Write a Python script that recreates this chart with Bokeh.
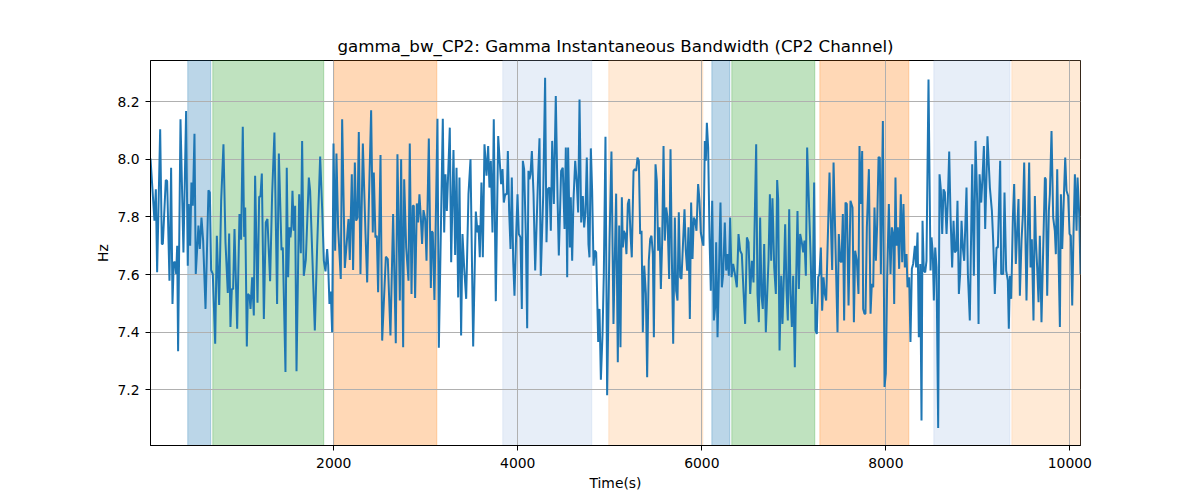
from bokeh.plotting import figure
from bokeh.models import Range1d, BoxAnnotation, FixedTicker, ColumnDataSource
from bokeh.embed import file_html
from bokeh.resources import INLINE

# ---- data ----
time_s = [
    8, 51, 66, 80, 113, 131, 142, 174, 189, 214, 232, 247, 261, 276, 287, 298, 308, 334, 366, 395,
    413, 424, 439, 453, 468, 486, 500, 529, 544, 562, 580, 606, 638, 653, 667, 685, 711, 729, 754, 776,
    801, 823, 848, 863, 877, 892, 906, 921, 950, 975, 993, 1011, 1026, 1037, 1055, 1066, 1084, 1095, 1113, 1131,
    1145, 1171, 1189, 1203, 1218, 1240, 1261, 1279,
    1308, 1330, 1355, 1384, 1403, 1432, 1446, 1475, 1489, 1504, 1518, 1529, 1540, 1551, 1566, 1580, 1595, 1624,
    1642, 1656, 1674, 1696, 1729, 1743, 1794, 1819, 1852, 1874, 1892, 1910, 1928, 1939, 1953, 1968, 1982, 1997,
    2015, 2029, 2047, 2076, 2091, 2120, 2145, 2160, 2174, 2196, 2210, 2229, 2243, 2258, 2272, 2290, 2316, 2345,
    2363, 2381, 2406, 2424, 2435, 2453, 2468, 2482, 2508, 2526,
    2566, 2587, 2616, 2645, 2674, 2692, 2718, 2732, 2754, 2765, 2787, 2812, 2826, 2845, 2859, 2870, 2884, 2903,
    2917, 2931, 2946, 2960, 2975, 2993, 3008, 3033, 3055, 3066, 3076, 3094, 3127, 3142, 3185, 3200, 3214, 3229,
    3261, 3276, 3301, 3319, 3334, 3352, 3366, 3384, 3399, 3417, 3439, 3464, 3486, 3515, 3544, 3562, 3573, 3587,
    3605, 3620, 3638, 3660, 3678, 3692, 3707, 3725, 3739, 3761, 3787,
    3819, 3834, 3848, 3863, 3881, 3892, 3906, 3921, 3935, 3950, 3964, 3982, 3997, 4011, 4029, 4044, 4055, 4069,
    4087, 4102, 4116, 4127, 4138, 4153, 4171, 4189, 4221, 4236, 4250, 4276, 4297, 4312, 4326, 4345, 4359, 4374,
    4392, 4413, 4432, 4446, 4471, 4489, 4508, 4522, 4537, 4547, 4566, 4576, 4591, 4605, 4624, 4642, 4656, 4671,
    4689, 4707, 4721, 4736, 4750, 4768, 4779, 4794, 4808, 4823, 4837, 4852, 4874, 4888, 4903, 4921, 4935, 4953,
    4971, 4997, 5018, 5040, 5069,
    5087, 5102, 5116, 5131, 5142, 5153, 5167, 5181, 5196, 5210, 5225, 5239, 5258, 5272, 5287, 5301, 5316, 5330,
    5345, 5359, 5374, 5392, 5406, 5424, 5439, 5453, 5468, 5479, 5497, 5511, 5526, 5540, 5555, 5569, 5584, 5598,
    5613, 5627, 5645, 5660, 5674, 5689, 5707, 5721, 5736, 5750, 5765, 5779, 5812, 5826, 5841, 5855, 5870, 5884,
    5899, 5913, 5928, 5942, 5960, 5975, 5989, 6004, 6018, 6033, 6044, 6055, 6069, 6084, 6098, 6113, 6131, 6145,
    6156, 6171, 6185, 6203, 6218, 6232, 6250, 6265, 6279, 6294, 6308, 6323, 6341,
    6363, 6381, 6399, 6417, 6435, 6453, 6471, 6490, 6508, 6526, 6544, 6562, 6591, 6605, 6620, 6634, 6649, 6663,
    6678, 6696, 6711, 6725, 6740, 6754, 6768, 6787, 6805, 6819, 6830, 6845, 6863, 6877, 6892, 6906, 6921, 6935,
    6950, 6964, 6979, 6993, 7011, 7026, 7040, 7055, 7069, 7087, 7102, 7116, 7131, 7145, 7182, 7196, 7207, 7221,
    7236, 7250, 7265, 7279, 7294, 7308, 7323, 7337, 7352, 7388, 7417, 7432, 7475, 7489, 7504, 7518, 7533, 7547,
    7562, 7576, 7595,
    7616, 7638, 7653, 7667, 7685, 7703, 7714, 7729, 7743, 7754, 7768, 7779, 7794, 7816, 7834, 7848, 7863, 7877,
    7892, 7906, 7921, 7935, 7946, 7968, 7986, 8000, 8015, 8033, 8051, 8066, 8080, 8091, 8105, 8116, 8131, 8145,
    8163, 8178, 8192, 8207, 8225, 8236, 8254, 8268, 8283, 8297, 8316, 8330, 8345, 8359, 8374, 8388, 8399, 8413,
    8428, 8442, 8464, 8486, 8497, 8511, 8522, 8537, 8551, 8569, 8584, 8598, 8613, 8627, 8642, 8660, 8674, 8689,
    8703, 8721, 8736, 8750, 8765, 8779, 8794, 8808, 8823, 8837, 8852,
    8877, 8892, 8913, 8939, 8957, 8975, 8993, 9008, 9019, 9037, 9051, 9066, 9080, 9105, 9131, 9153, 9167, 9185,
    9203, 9218, 9243, 9254, 9276, 9290, 9308, 9326, 9337, 9348, 9363, 9381, 9395, 9413, 9428, 9442, 9457, 9475,
    9490, 9504, 9529, 9558, 9573, 9587, 9605, 9620, 9631, 9645, 9660, 9674, 9692, 9711, 9729, 9739, 9754, 9772,
    9783, 9801, 9819, 9837, 9848, 9863, 9877, 9892, 9903, 9917, 9935, 9950, 9964, 9982, 9997, 10011, 10026, 10040,
    10055, 10073, 10084, 10102, 10116,
]

bandwidth_hz = [
    8.003, 7.787, 7.896, 7.608, 8.104, 7.706, 7.706, 7.928, 7.925, 7.579, 7.971, 7.498, 7.643, 7.643, 7.602, 7.700, 7.334, 8.139, 7.677, 8.168,
    7.631, 7.845, 7.700, 7.920, 7.839, 8.089, 7.602, 7.770, 7.689, 7.798, 7.718, 7.481, 7.893, 7.885, 7.616, 7.602, 7.360, 7.735, 7.495, 7.856,
    8.052, 7.712, 7.536, 7.743, 7.418, 7.550, 7.550, 7.758, 7.412, 7.810, 7.721, 8.113, 7.731, 7.833, 7.351, 7.533, 7.527, 7.481, 7.591, 7.458,
    7.943, 7.502, 7.870, 7.871, 7.951, 7.446, 7.781, 7.793,
    7.577, 7.879, 8.093, 7.498, 8.020, 7.685, 7.694, 7.262, 7.971, 7.591, 7.764, 7.729, 7.766, 7.891, 7.752, 7.839, 7.265, 7.879,
    7.674, 8.064, 7.596, 7.651, 7.937, 7.891, 7.406, 7.694, 8.010, 7.827, 7.648, 7.611, 7.689, 7.634, 7.498, 7.541, 7.400, 8.055,
    7.683, 8.020, 7.764, 7.585, 8.139, 7.623, 7.729, 7.793, 7.651, 7.948, 7.616, 7.989, 7.787, 7.798, 8.095, 7.602, 8.055, 7.741,
    7.573, 7.845, 8.170, 7.746, 7.954, 7.729, 7.735, 7.539, 8.015, 7.371,
    7.662, 7.654, 7.389, 7.810, 7.362, 8.018, 7.510, 8.000, 7.348, 7.931, 7.694, 7.579, 8.055, 7.533, 7.839, 7.839, 7.519, 7.847,
    7.781, 7.879, 7.798, 7.706, 7.824, 7.793, 7.648, 8.072, 7.554, 7.750, 7.746, 7.512, 8.141, 7.346, 8.141, 7.746, 7.948, 7.821,
    8.110, 7.643, 8.032, 7.668, 7.971, 7.521, 7.937, 7.389, 7.741, 7.625, 7.516, 7.879, 8.000, 7.351, 7.819, 7.746, 7.771, 7.660,
    7.920, 7.660, 8.052, 7.943, 8.046, 7.902, 7.995, 7.746, 8.139, 7.508, 8.081,
    7.914, 7.966, 7.850, 7.879, 7.879, 8.029, 7.821, 7.689, 7.937, 7.648, 7.527, 7.735, 7.879, 7.741, 7.729, 7.481, 7.995, 7.966,
    7.741, 7.414, 7.960, 7.931, 7.948, 8.029, 7.879, 7.614, 7.943, 8.073, 7.596, 7.873, 8.283, 7.712, 7.896, 7.902, 7.752, 8.064,
    7.845, 8.220, 7.868, 7.666, 7.960, 7.971, 7.758, 8.041, 7.591, 8.041, 7.694, 7.868, 7.648, 7.856, 7.995, 7.914, 7.816, 8.208,
    7.781, 7.873, 7.764, 7.816, 8.006, 7.706, 7.660, 8.038, 7.891, 7.631, 7.683, 7.677, 7.366, 7.481, 7.235, 7.394, 7.602, 8.078,
    7.181, 7.718, 8.027, 7.429, 7.881,
    7.296, 7.770, 7.348, 7.868, 7.694, 7.752, 7.741, 7.671, 7.845, 7.862, 7.741, 7.660, 7.960, 7.966, 7.960, 8.006, 7.995, 7.741,
    7.752, 7.400, 7.631, 7.533, 7.244, 7.648, 7.723, 7.735, 7.671, 7.383, 7.983, 7.925, 7.683, 7.764, 7.550, 7.712, 8.046, 7.718,
    7.833, 7.798, 7.585, 8.035, 7.671, 7.360, 7.798, 7.544, 7.510, 7.816, 7.591, 7.585, 7.827, 7.683, 7.614, 7.764, 7.446, 7.850,
    7.654, 7.798, 7.787, 7.752, 7.914, 7.856, 7.746, 7.718, 7.700, 8.064, 7.995, 8.127, 8.041, 7.729, 7.544, 7.856, 7.441, 7.487,
    7.712, 7.383, 7.585, 7.850, 7.556, 7.602, 7.781, 7.614, 7.671, 7.596, 7.798, 7.591, 7.637,
    7.596, 7.556, 7.741, 7.683, 7.671, 7.544, 7.429, 7.729, 7.712, 7.533, 7.648, 7.573, 8.052, 7.533, 7.435, 7.798, 7.527, 7.481,
    7.706, 7.400, 7.533, 7.648, 7.879, 7.648, 7.865, 7.625, 7.533, 7.928, 7.862, 7.337, 7.596, 7.429, 7.591, 7.775, 7.544, 7.441,
    7.827, 7.533, 7.418, 7.596, 7.279, 7.591, 7.821, 7.550, 7.741, 7.712, 7.677, 7.718, 7.596, 8.041, 7.671, 7.498, 7.556, 7.920,
    7.406, 7.394, 7.591, 7.602, 7.694, 7.475, 7.591, 7.533, 7.510, 7.954, 7.616, 7.989, 7.400, 7.741, 7.648, 7.643, 7.810, 7.441,
    7.850, 7.845, 7.493,
    7.856, 7.833, 7.435, 7.683, 7.648, 7.533, 8.046, 7.845, 8.029, 7.481, 7.464, 7.464, 7.764, 7.966, 7.464, 7.568, 7.556, 7.833,
    7.648, 7.775, 8.008, 8.006, 7.602, 8.133, 7.210, 7.256, 7.591, 7.845, 7.602, 7.764, 7.741, 7.498, 7.937, 7.700, 7.764, 7.620,
    7.879, 7.643, 7.845, 7.625, 7.671, 7.556, 7.591, 7.366, 7.620, 7.637, 7.700, 7.625, 7.746, 7.383, 7.637, 7.094, 7.787, 7.614,
    7.608, 7.648, 8.277, 7.614, 7.729, 7.671, 7.510, 7.694, 7.625, 7.068, 7.948, 7.896, 7.741, 7.896, 7.885, 7.741, 7.856, 8.027,
    7.810, 7.625, 7.787, 7.677, 7.683, 7.856, 7.533, 7.602, 7.787, 7.694, 7.648,
    7.902, 7.602, 7.441, 7.983, 7.596, 8.064, 7.856, 7.429, 7.948, 7.850, 7.937, 8.046, 7.758, 8.080, 7.902, 7.821, 7.718, 7.533,
    7.694, 7.694, 7.995, 7.602, 7.602, 7.885, 7.614, 7.579, 7.412, 7.596, 7.516, 7.798, 7.914, 7.637, 7.752, 7.862, 7.527, 7.718,
    7.810, 7.989, 7.510, 7.989, 7.625, 7.723, 7.441, 7.873, 7.718, 7.625, 7.504, 7.735, 7.435, 7.694, 7.937, 7.931, 7.527, 7.821,
    7.879, 8.098, 7.798, 7.752, 7.671, 7.966, 7.671, 7.418, 7.879, 7.689, 7.868, 8.006, 7.891, 7.873, 7.741, 7.735, 7.493, 7.741,
    7.948, 7.752, 7.937, 7.810, 7.602,
]

# shaded segments: start, end, colour
span_start = [413, 685, 2000, 3837, 4989, 6109, 6326, 7283, 8522, 9370]
span_end = [663, 1891, 3120, 4804, 6011, 6304, 7228, 8250, 9348, 10116]
span_color = ["#1f77b4", "#2ca02c", "#ff7f0e", "#aec7e8", "#ffbb78",
              "#1f77b4", "#2ca02c", "#ff7f0e", "#aec7e8", "#ffbb78"]

title_text = "gamma_bw_CP2: Gamma Instantaneous Bandwidth (CP2 Channel)"
x_ticks = [2000, 4000, 6000, 8000, 10000]
y_ticks = [7.2, 7.4, 7.6, 7.8, 8.0, 8.2]
y_tick_labels = ["7.2", "7.4", "7.6", "7.8", "8.0", "8.2"]

FONT = "DejaVu Sans"

p = figure(
    frame_width=930, frame_height=385,
    min_border_left=150, min_border_top=60, min_border_right=104, min_border_bottom=39,
    x_range=Range1d(min(time_s), max(time_s)),
    y_range=Range1d(7.007, 8.343),
    output_backend="svg", toolbar_location=None, tools="",
    background_fill_color="white", border_fill_color="white",
)

# shaded spans (below grid)
for s, e, c in zip(span_start, span_end, span_color):
    box = BoxAnnotation(left=s, right=e, fill_color=c, fill_alpha=0.3,
                        line_color=c, line_alpha=0.3, line_width=1, level="image")
    p.add_layout(box)

src = ColumnDataSource(dict(t=time_s, v=bandwidth_hz))
p.line("t", "v", source=src, line_color="#1f77b4", line_width=2)

# title
p.title.text = title_text
p.title.align = "center"
p.title.text_font = FONT
p.title.text_font_size = "16.7px"
p.title.text_font_style = "normal"
p.title.text_color = "black"
p.title.standoff = 9

# grid
for g in (p.xgrid, p.ygrid):
    g.grid_line_color = "#b0b0b0"
    g.grid_line_width = 1
p.xgrid.ticker = FixedTicker(ticks=x_ticks)
p.ygrid.ticker = FixedTicker(ticks=y_ticks)

# axes
p.xaxis.ticker = FixedTicker(ticks=x_ticks)
p.yaxis.ticker = FixedTicker(ticks=y_ticks)
p.yaxis.major_label_overrides = {t: l for t, l in zip(y_ticks, y_tick_labels)}
p.xaxis.axis_label = "Time(s)"
p.yaxis.axis_label = "Hz"
for ax in (p.xaxis[0], p.yaxis[0]):
    ax.axis_label_text_font = FONT
    ax.axis_label_text_font_size = "13.9px"
    ax.axis_label_text_font_style = "normal"
    ax.axis_label_text_color = "black"
    ax.major_label_text_font = FONT
    ax.major_label_text_font_size = "13.9px"
    ax.major_label_text_color = "black"
    ax.axis_line_color = "black"
    ax.major_tick_line_color = "black"
    ax.major_tick_out = 5
    ax.major_tick_in = 0
    ax.minor_tick_line_color = None
p.xaxis[0].major_label_standoff = 7
p.xaxis[0].axis_label_standoff = 4
p.yaxis[0].major_label_standoff = 6
p.yaxis[0].axis_label_standoff = 3

p.outline_line_color = "black"
p.outline_line_width = 1
p.outline_line_alpha = 1

open("out.html", "w").write(file_html(p, INLINE))
